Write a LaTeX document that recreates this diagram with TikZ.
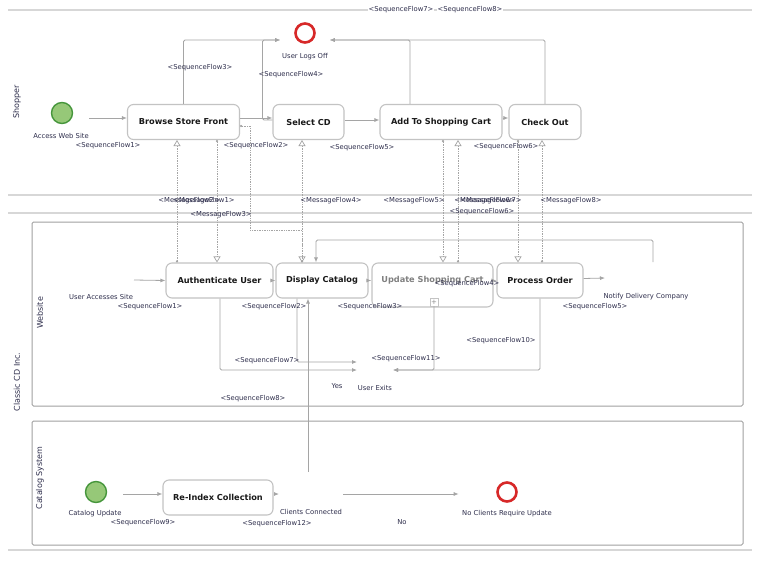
\documentclass[tikz,border=0pt]{standalone}
\usepackage{fontspec}
\setmainfont{DejaVu Sans}
\usetikzlibrary{arrows.meta}

\definecolor{flowgray}{RGB}{165,165,165}
\definecolor{boxgray}{RGB}{195,195,195}
\definecolor{lanegray}{RGB}{160,160,160}
\definecolor{sepgray}{RGB}{215,215,215}
\definecolor{lbltext}{RGB}{45,45,75}
\definecolor{evgreen}{RGB}{70,150,60}
\definecolor{evfill}{RGB}{150,200,120}
\definecolor{evred}{RGB}{215,40,40}

\begin{document}
\begin{tikzpicture}[x=1pt,y=-1pt,>={Latex[length=5pt,width=4pt]},
  task/.style={draw=boxgray,line width=1.1pt,rounded corners=6pt,fill=white,
    minimum height=35pt,inner sep=0pt,text=black!90,
    font=\fontsize{8.2}{10}\selectfont\bfseries},
  startev/.style={circle,draw=evgreen,line width=1.4pt,fill=evfill,minimum size=21pt,inner sep=0pt},
  endev/.style={circle,draw=evred,line width=2.6pt,minimum size=19pt,inner sep=0pt},
  lbl/.style={font=\fontsize{6.8}{8}\selectfont,text=lbltext,inner sep=0.5pt},
  lanelbl/.style={font=\fontsize{8}{9}\selectfont,text=lbltext,rotate=90,inner sep=0pt},
  lane/.style={draw=lanegray,line width=1pt,rounded corners=1.5pt},
  sep/.style={draw=sepgray,line width=1.4pt},
  seq/.style={draw=flowgray,line width=0.8pt,->,rounded corners=1.5pt},
  msg/.style={draw=flowgray,line width=0.7pt,densely dotted,
    {Circle[length=2.2pt,fill=flowgray]}-{Triangle[open,length=6pt,width=7pt]}}
]
\useasboundingbox (0,0) rectangle (762,562);

\draw[sep] (8,10) -- (752,10);
\draw[sep] (8,195) -- (752,195);
\draw[sep] (8,213) -- (752,213);
\draw[sep] (8,550) -- (752,550);
\draw[lane] (32,222) rectangle (743,406);
\draw[lane] (32,421) rectangle (743,545);

\node[lanelbl] (shp) at (17,102) {Shopper};
\node[lanelbl] (ccd) at (17,382) {Classic CD Inc.};
\node[lanelbl] (web) at (40,313) {Website};
\node[lanelbl] (cat) at (40,478) {Catalog System};

% shopper
\node[startev] (aws) at (62,113) {};
\node[task,minimum width=112pt] (bsf) at (183.5,122) {Browse Store Front};
\node[task,minimum width=71pt] (scd) at (308.5,122) {Select CD};
\node[task,minimum width=122pt] (atc) at (441,122) {Add To Shopping Cart};
\node[task,minimum width=72pt] (cko) at (545,122) {Check Out};
\node[endev] (ulo) at (305,33) {};

\draw[seq] ([shift={(16pt,-5pt)}]aws.east) -- ([yshift=4pt]bsf.west);
\draw[seq] ([yshift=4pt]bsf.east) -- ([yshift=4pt]scd.west);
\draw[seq] ([yshift=2pt]scd.west) -- ++(-10,0) |- ([shift={(-14pt,-7pt)}]ulo.west);
\draw[seq] (bsf.north) |- ([shift={(-14pt,-7pt)}]ulo.west);
\draw[seq] ([yshift=2pt]scd.east) -- ([yshift=2pt]atc.west);
\draw[seq] ([yshift=4pt]atc.east) -- ([yshift=4pt]cko.west);
\draw[seq] ([xshift=-31pt]atc.north) |- ([shift={(14pt,-7pt)}]ulo.east);
\draw[seq] (cko.north) |- ([shift={(14pt,-7pt)}]ulo.east);

% website
\coordinate (uas) at (134,280);
\node[task,minimum width=107pt] (aus) at (219.5,280.5) {Authenticate User};
\node[task,minimum width=92pt] (dcg) at (322,280.5) {Display Catalog};
\node[task,minimum width=121pt,minimum height=44pt,
  label={[font=\fontsize{8.2}{10}\selectfont\bfseries,text=black!50,yshift=5pt]center:Update Shopping Cart}]
  (usc) at (432.5,285) {};
\node[draw=boxgray,line width=0.6pt,minimum size=8pt,inner sep=0pt,text=black!45,
  font=\fontsize{7}{7}\selectfont] (uscplus) at (434,302) {+};
\node[task,minimum width=86pt] (pro) at (540,280.5) {Process Order};
\coordinate (ndc) at (605,278);
\coordinate (ndcl) at (653,262);
\coordinate (uexl) at (357,362);
\coordinate (uexb) at (357,370);
\coordinate (uexr) at (393,370);

\draw[seq] (uas) -- (aus.west);
\draw[seq] (aus.east) -- (dcg.west);
\draw[seq] (dcg.east) -- (usc.west |- dcg.east);
\draw[seq] (usc.east |- pro.west) -- (pro.west);
\draw[seq] ([yshift=2pt]pro.east) -- (ndc);
\draw[seq] (ndcl) -- ++(0,-22) -| ([xshift=-6pt]dcg.north);
\draw[seq] ([xshift=-25pt]dcg.south) |- (uexl);
\draw[seq] ([xshift=0.5pt]aus.south) |- (uexb);
\draw[seq] (pro.south) |- (uexr);
\draw[seq] (uscplus.south) |- (uexr);

% message flows
\draw[msg] ([xshift=-42.5pt]aus.north) -- ([xshift=-6.5pt]bsf.south);
\draw[msg] ([xshift=33.5pt]bsf.south) -- ([xshift=-2.5pt]aus.north);
\draw[msg] ([yshift=-4pt]bsf.east) -- ++(10,0) -- ++(0,104) -| ([xshift=-20pt]dcg.north);
\draw[msg] ([xshift=-20pt]dcg.north) -- ([xshift=-6.5pt]scd.south);
\draw[msg] ([xshift=2pt]atc.south) -- ([xshift=10.5pt]usc.north);
\draw[msg] ([xshift=25.5pt]usc.north) -- ([xshift=17pt]atc.south);
\draw[msg] ([xshift=-27pt]cko.south) -- ([xshift=-22pt]pro.north);
\draw[msg] ([xshift=2pt]pro.north) -- ([xshift=-3pt]cko.south);

% catalog system
\node[startev] (cup) at (96,492) {};
\node[task,minimum width=110pt] (rix) at (218,497.5) {Re-Index Collection};
\node[endev] (ncu) at (507,492) {};
\coordinate (ccl) at (279,494);
\coordinate (cct) at (308,472);
\coordinate (ccr) at (343,494);

\draw[seq] ([shift={(16pt,-2pt)}]cup.east) -- ([yshift=3.5pt]rix.west);
\draw[seq] ([yshift=3.5pt]rix.east) -- (ccl);
\draw[seq] (cct) -- ([xshift=-14pt]dcg.south);
\draw[seq] (ccr) -- ([shift={(-37.5pt,-2pt)}]ncu.west);

% labels
\node[lbl,fill=white] (l7) at (401,10) {<SequenceFlow7>};
\node[lbl,fill=white] (l8) at (470,10) {<SequenceFlow8>};
\node[lbl] at (61,136) {Access Web Site};
\node[lbl] at (108,146) {<SequenceFlow1>};
\node[lbl] at (256,146) {<SequenceFlow2>};
\node[lbl] at (200,68) {<SequenceFlow3>};
\node[lbl] at (291,75) {<SequenceFlow4>};
\node[lbl] at (362,148) {<SequenceFlow5>};
\node[lbl] at (506,147) {<SequenceFlow6>};
\node[lbl] at (305,57) {User Logs Off};

\node[lbl] at (189,201) {<MessageFlow2>};
\node[lbl] at (204,201) {<MessageFlow1>};
\node[lbl] at (221,215) {<MessageFlow3>};
\node[lbl] at (331,201) {<MessageFlow4>};
\node[lbl] at (414,201) {<MessageFlow5>};
\node[lbl] at (485,201) {<MessageFlow6>};
\node[lbl] at (491,201) {<MessageFlow7>};
\node[lbl] at (482,212) {<SequenceFlow6>};
\node[lbl] at (571,201) {<MessageFlow8>};

\node[lbl] at (101,297) {User Accesses Site};
\node[lbl] at (150,307) {<SequenceFlow1>};
\node[lbl] at (274,307) {<SequenceFlow2>};
\node[lbl] at (370,307) {<SequenceFlow3>};
\node[lbl] at (467,284) {<SequenceFlow4>};
\node[lbl] at (646,297) {Notify Delivery Company};
\node[lbl] at (595,307) {<SequenceFlow5>};
\node[lbl] at (501,341) {<SequenceFlow10>};
\node[lbl] at (267,361) {<SequenceFlow7>};
\node[lbl] at (406,359) {<SequenceFlow11>};
\node[lbl] at (337,386) {Yes};
\node[lbl] at (375,388) {User Exits};
\node[lbl] at (253,399) {<SequenceFlow8>};

\node[lbl] at (95,514) {Catalog Update};
\node[lbl] at (143,523) {<SequenceFlow9>};
\node[lbl] at (311,512) {Clients Connected};
\node[lbl] at (277,524) {<SequenceFlow12>};
\node[lbl] at (402,522) {No};
\node[lbl] at (507,514) {No Clients Require Update};
\end{tikzpicture}
\end{document}
